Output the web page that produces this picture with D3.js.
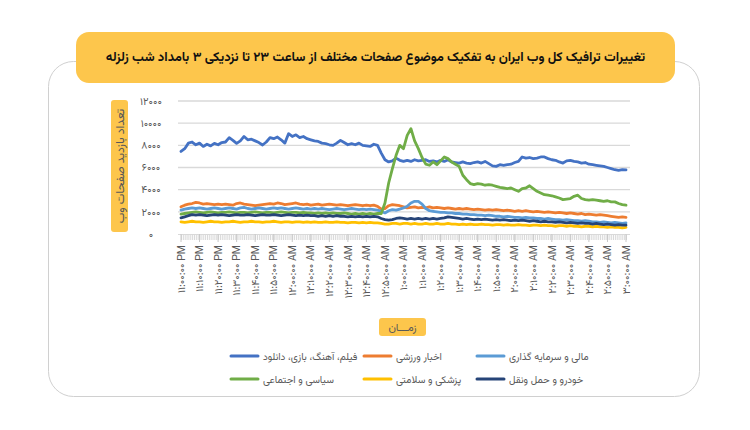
<!DOCTYPE html>
<html><head><meta charset="utf-8">
<script src="https://cdn.jsdelivr.net/npm/d3@7"></script>
<style>
html,body{margin:0;padding:0;background:#fff;}
svg{display:block;font-family:"Vazirmatn","Noto Sans Arabic","DejaVu Sans",sans-serif;}
</style></head>
<body><svg id="c" width="750" height="430"></svg>
<script>
const title = "تغییرات ترافیک کل وب ایران به تفکیک موضوع صفحات مختلف از ساعت ۲۳ تا نزدیکی ۳ بامداد شب زلزله";
const yTitle = "تعداد بازدید صفحات وب";
const xTitle = "زمـــان";
const yTicks = [0, 2000, 4000, 6000, 8000, 10000, 12000];
const yTickLabels = ["۰", "۲۰۰۰", "۴۰۰۰", "۶۰۰۰", "۸۰۰۰", "۱۰۰۰۰", "۱۲۰۰۰"];
const xLabels = [
 "۱۱:۰۰:۰۰ PM","۱۱:۱۰:۰۰ PM","۱۱:۲۰:۰۰ PM","۱۱:۳۰:۰۰ PM","۱۱:۴۰:۰۰ PM","۱۱:۵۰:۰۰ PM",
 "۱۲:۰۰:۰۰ AM","۱۲:۱۰:۰۰ AM","۱۲:۲۰:۰۰ AM","۱۲:۳۰:۰۰ AM","۱۲:۴۰:۰۰ AM","۱۲:۵۰:۰۰ AM",
 "۱:۰۰:۰۰ AM","۱:۱۰:۰۰ AM","۱:۲۰:۰۰ AM","۱:۳۰:۰۰ AM","۱:۴۰:۰۰ AM","۱:۵۰:۰۰ AM",
 "۲:۰۰:۰۰ AM","۲:۱۰:۰۰ AM","۲:۲۰:۰۰ AM","۲:۳۰:۰۰ AM","۲:۴۰:۰۰ AM","۲:۵۰:۰۰ AM",
 "۳:۰۰:۰۰ AM"];
const seriesNames = ["فیلم، آهنگ، بازی، دانلود","اخبار ورزشی","مالی و سرمایه گذاری","سیاسی و اجتماعی","پزشکی و سلامتی","خودرو و حمل ونقل"];
const seriesColors = ["#4472C4","#ED7D31","#5B9BD5","#70AD47","#FFC000","#264478"];

// values every 2 minutes from 23:00 to 03:00
const media = [
 7450,7700,8200,8300,8050,8200,7900,8100,7950,8180,
 8050,8250,8300,8690,8450,8180,8400,8800,8500,8550,
 8400,8250,8030,8300,8700,8600,8750,8500,8200,9050,
 8800,8950,8700,8800,8600,8500,8400,8350,8200,8150,
 8050,8000,8200,8450,8250,8050,8150,8050,8200,8000,
 7950,7900,8100,8000,7300,6700,6500,6600,6850,6650,
 6550,6650,6550,6700,6600,6650,6700,6550,6600,6500,
 6650,6550,6700,6500,6450,6400,6500,6400,6350,6450,
 6500,6400,6550,6350,6150,6100,6250,6200,6250,6300,
 6450,6550,6950,6850,6900,6800,6850,6950,6950,6800,
 6700,6650,6500,6400,6600,6650,6550,6500,6400,6450,
 6300,6250,6200,6150,6100,6000,5900,5800,5750,5800,
 5780];
const sportsNews = [
 2450,2600,2700,2750,2850,2800,2700,2750,2700,2650,
 2700,2650,2700,2650,2600,2750,2800,2700,2650,2600,
 2550,2600,2650,2700,2750,2700,2800,2750,2650,2700,
 2750,2800,2700,2650,2700,2600,2650,2700,2600,2650,
 2700,2650,2600,2650,2600,2550,2600,2650,2600,2550,
 2600,2550,2600,2500,2250,2300,2550,2650,2600,2550,
 2450,2350,2400,2450,2350,2400,2350,2450,2350,2400,
 2350,2300,2350,2300,2250,2300,2250,2300,2250,2200,
 2250,2200,2150,2200,2150,2200,2150,2100,2150,2100,
 2050,2100,2050,2100,2050,2000,2050,2000,1950,2000,
 1950,1900,1950,1900,1850,1900,1850,1800,1850,1750,
 1800,1750,1700,1750,1700,1650,1600,1550,1500,1550,
 1500];
const finance = [
 2150,2250,2300,2350,2300,2350,2300,2250,2300,2350,
 2300,2250,2300,2350,2300,2250,2350,2400,2300,2250,
 2300,2350,2300,2250,2300,2350,2300,2350,2300,2250,
 2300,2350,2300,2250,2300,2250,2300,2250,2300,2250,
 2200,2250,2300,2250,2200,2250,2300,2250,2200,2250,
 2200,2250,2200,2150,2050,1900,2100,2200,2150,2250,
 2350,2500,2800,2950,2950,2700,2300,2100,2050,2000,
 1950,1950,1900,1900,1850,1850,1800,1800,1750,1750,
 1700,1700,1650,1700,1650,1600,1600,1550,1600,1550,
 1500,1500,1450,1500,1450,1450,1400,1400,1350,1400,
 1350,1300,1300,1250,1300,1250,1200,1200,1150,1200,
 1150,1100,1100,1050,1100,1050,1000,1050,1000,950,
 1000];
const political = [
 1800,1850,1900,1950,2000,1950,1900,1950,2000,1950,
 1900,1950,1950,2000,1950,1900,1950,1950,1900,1950,
 2000,1950,1900,1950,1950,1900,1950,2000,1950,1900,
 1950,1950,1900,1950,1900,1900,1850,1900,1850,1900,
 1850,1900,1850,1850,1900,1850,1800,1850,1800,1850,
 1800,1850,1800,1850,1850,2800,4600,5900,7100,8000,
 7700,8900,9500,8400,7700,6900,6300,6200,6500,6250,
 6600,6950,6800,6500,6300,6100,5300,4900,4550,4450,
 4550,4500,4400,4450,4400,4300,4200,4150,4100,4150,
 4000,3850,4100,4150,4350,4100,3850,3700,3550,3500,
 3450,3350,3250,3100,3150,3200,3400,3500,3200,3100,
 3050,3100,3050,3000,2950,3000,2900,2900,2750,2650,
 2600];
const health = [
 1100,1050,1100,1150,1100,1100,1050,1100,1150,1100,
 1100,1050,1100,1100,1150,1100,1050,1100,1100,1150,
 1100,1100,1050,1100,1100,1150,1100,1050,1100,1100,
 1050,1100,1100,1050,1100,1050,1100,1050,1050,1100,
 1050,1050,1100,1050,1050,1000,1050,1050,1000,1050,
 1000,1050,1000,1000,950,900,900,950,950,900,
 950,950,900,950,900,900,950,900,900,950,
 900,900,950,900,900,850,900,850,900,850,
 850,900,850,850,800,850,850,800,850,800,
 800,850,800,800,750,800,800,750,800,750,
 750,700,750,750,700,750,700,700,650,700,
 700,650,700,650,650,600,650,600,600,550,
 600];
const transport = [
 1450,1550,1650,1750,1700,1750,1700,1650,1700,1750,
 1700,1750,1700,1650,1700,1750,1700,1700,1750,1700,
 1650,1700,1750,1700,1700,1750,1700,1650,1700,1750,
 1700,1650,1700,1650,1700,1650,1650,1600,1650,1600,
 1650,1600,1650,1600,1600,1550,1600,1550,1600,1550,
 1600,1550,1600,1550,1400,1300,1250,1300,1400,1450,
 1400,1350,1400,1350,1400,1350,1400,1350,1400,1350,
 1400,1450,1550,1500,1450,1400,1350,1400,1350,1300,
 1350,1300,1350,1300,1250,1300,1250,1300,1250,1200,
 1250,1200,1250,1200,1150,1200,1150,1100,1150,1100,
 1100,1050,1100,1050,1000,1050,1000,950,1000,950,
 950,900,950,900,850,900,850,800,850,800,
 800];
const allSeries = [media, sportsNews, finance, political, health, transport];

const svg = d3.select("#c");
const YEL = "#FDC64C", GRAY = "#595959";

// outer frame
svg.append("rect").attr("x",48.5).attr("y",61.5).attr("width",651).attr("height",335)
  .attr("rx",25).attr("fill","#fff").attr("stroke","#d0d0d0").attr("stroke-width",1);

// title box
svg.append("rect").attr("x",76).attr("y",32).attr("width",599).attr("height",51)
  .attr("rx",13).attr("fill",YEL);
const t = svg.append("text").attr("x",375.5).attr("y",58).attr("text-anchor","middle")
  .attr("dominant-baseline","middle").attr("direction","rtl")
  .attr("font-weight","bold").attr("font-size",15).attr("fill","#111").text(title);
const tw = t.node().getComputedTextLength();
if (tw > 0) t.attr("font-size", 15*540/tw);

// scales
const x = d3.scaleLinear().domain([0,240]).range([181,626]);
const y = d3.scaleLinear().domain([0,12000]).range([234,101]);
const minutes = d3.range(0, 241, 2);

// gridlines
svg.append("g").selectAll("line").data(yTicks.filter(d=>d>0)).join("line")
  .attr("x1",178).attr("x2",630).attr("y1",d=>y(d)).attr("y2",d=>y(d))
  .attr("stroke","#d9d9d9").attr("stroke-width",1.3);

// y tick labels
svg.append("g").selectAll("text").data(yTicks).join("text")
  .attr("x",151).attr("y",d=>y(d)).attr("dy","0.35em").attr("text-anchor","middle")
  .attr("font-size",10.5).attr("fill",GRAY).text((d,i)=>yTickLabels[i]);

// x axis tick band
const xAxis = d3.axisBottom(x).tickValues(d3.range(0,241)).tickSize(6).tickFormat("");
const gx = svg.append("g").attr("transform","translate(0,234)").call(xAxis);
gx.select(".domain").attr("stroke","#d9d9d9").attr("d","M178,0.5H630");
gx.selectAll(".tick line").attr("stroke","#d9d9d9");
svg.append("g").attr("transform","translate(0,234)").selectAll("line")
  .data(d3.range(0,241,10)).join("line")
  .attr("x1",d=>x(d)).attr("x2",d=>x(d)).attr("y1",0).attr("y2",8).attr("stroke","#c8c8c8");

// x labels
svg.append("g").selectAll("text").data(xLabels).join("text")
  .attr("transform",(d,i)=>`translate(${x(i*10)},245) rotate(-90)`)
  .attr("dy","0.35em").attr("text-anchor","end").attr("direction","ltr")
  .attr("font-size",10.5).attr("fill",GRAY).text(d=>d);

// lines
const line = d3.line().x((d,i)=>x(minutes[i])).y(d=>y(d));
svg.append("g").selectAll("path").data(allSeries).join("path")
  .attr("d",d=>line(d)).attr("fill","none")
  .attr("stroke",(d,i)=>seriesColors[i]).attr("stroke-width",2.8)
  .attr("stroke-linejoin","round").attr("stroke-linecap","round");

// y title box
svg.append("rect").attr("x",111).attr("y",100).attr("width",17).attr("height",132)
  .attr("rx",3).attr("fill",YEL);
svg.append("text").attr("transform","translate(119.5,166) rotate(-90)")
  .attr("text-anchor","middle").attr("dy","0.35em").attr("direction","rtl")
  .attr("font-size",12).attr("fill",GRAY).text(yTitle);

// x title box
svg.append("rect").attr("x",379).attr("y",318).attr("width",47).attr("height",18)
  .attr("rx",3).attr("fill",YEL);
svg.append("text").attr("x",402.5).attr("y",327).attr("dy","0.35em").attr("text-anchor","middle")
  .attr("direction","rtl").attr("font-size",11).attr("fill",GRAY).text(xTitle);

// legend
const legX = [231, 364, 477], legY = [356, 379];
const lg = svg.append("g").selectAll("g").data(seriesNames).join("g")
  .attr("transform",(d,i)=>`translate(${legX[i%3]},${legY[Math.floor(i/3)]})`);
lg.append("line").attr("x1",0).attr("x2",27).attr("stroke",(d,i)=>seriesColors[i])
  .attr("stroke-width",3).attr("stroke-linecap","round");
lg.append("text").attr("x",32).attr("dy","0.35em").attr("font-size",10)
  .attr("fill",GRAY).text(d=>d);
</script></body></html>
